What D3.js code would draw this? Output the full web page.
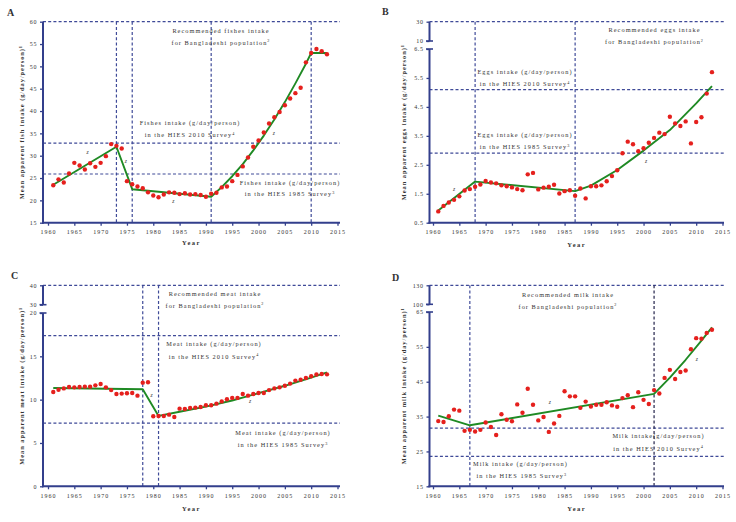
<!DOCTYPE html>
<html><head><meta charset="utf-8">
<script src="https://cdn.jsdelivr.net/npm/d3@7"></script>
<style>
body{margin:0;background:#fff}
svg{display:block}
text{font-family:"Liberation Serif","DejaVu Serif",serif;fill:#333}
</style>
</head><body>
<svg id="c" width="736" height="522"></svg>
<script>
// ---------------- DATA ----------------
const years = [1961,1962,1963,1964,1965,1966,1967,1968,1969,1970,
  1971,1972,1973,1974,1975,1976,1977,1978,1979,1980,
  1981,1982,1983,1984,1985,1986,1987,1988,1989,1990,
  1991,1992,1993,1994,1995,1996,1997,1998,1999,2000,
  2001,2002,2003,2004,2005,2006,2007,2008,2009,2010,
  2011,2012,2013];

const fishValues = [23.4,24.7,24.0,26.0,28.4,27.8,26.9,28.3,27.5,28.4,
  29.9,32.6,32.2,31.6,24.3,23.6,23.1,22.7,21.8,21.1,
  20.7,21.3,21.8,21.7,21.4,21.6,21.3,21.4,21.2,20.8,
  21.5,21.7,22.9,23.1,24.3,25.7,27.6,29.6,32.0,33.4,
  35.2,37.2,38.6,39.8,41.3,42.8,44.0,45.2,50.9,53.0,
  53.9,53.4,52.7];
const eggValues = [0.89,1.08,1.20,1.29,1.41,1.61,1.66,1.74,1.82,1.94,
  1.89,1.86,1.79,1.76,1.72,1.66,1.62,2.17,2.22,1.65,
  1.71,1.74,1.81,1.51,1.59,1.62,1.43,1.68,1.34,1.76,
  1.76,1.79,1.93,2.11,2.31,2.90,3.30,3.21,2.97,3.07,
  3.26,3.43,3.61,3.56,4.16,3.93,3.84,4.00,3.24,3.98,
  4.14,4.96,5.70];
const meatValues = [10.88,11.15,11.3,11.46,11.42,11.46,11.5,11.5,11.65,11.8,
  11.42,11.1,10.65,10.7,10.73,10.77,10.46,11.96,12.0,8.08,
  8.12,8.12,8.27,8.0,8.96,8.92,9.04,9.08,9.15,9.35,
  9.35,9.54,9.8,10.04,10.2,10.2,10.65,10.46,10.65,10.77,
  10.77,11.1,11.3,11.42,11.6,11.85,12.2,12.3,12.5,12.7,
  12.9,12.96,12.92];
const milkValues = [33.7,33.45,35.1,37.0,36.7,30.9,31.2,30.7,31.2,33.3,
  32.0,29.7,35.65,34.1,33.65,38.5,36.1,43.0,38.4,33.9,
  34.9,30.6,33.0,35.2,42.25,40.8,40.8,37.5,39.3,37.9,
  38.4,38.4,39.1,38.2,37.8,40.3,41.1,37.7,42.0,39.8,
  38.6,42.6,41.6,46.1,48.4,45.8,47.8,48.2,54.3,57.5,
  57.35,59.0,59.9];

// joinpoint-style fitted trend lines
const fishFitYears  = [1961,1973,1976,1991,1993,1995,1997,1999,2001,2003,2005,2007,2009,2010,2013];
const fishFitValues = [23.5,32.0,22.5,20.8,22.97,25.4,28.1,31.2,34.5,38.1,42.0,46.2,50.6,53.0,53.0];
const eggFitYears   = [1961,1968,1987,1990,1995,2000,2005,2010,2013];
const eggFitValues  = [0.92,1.92,1.59,1.78,2.32,2.99,3.70,4.62,5.22];
const meatFitYears  = [1961,1978,1981,1985,1990,1995,2000,2005,2010,2013];
const meatFitValues = [11.35,11.2,8.12,8.6,9.2,9.9,10.75,11.6,12.55,13.15];
const milkFitYears  = [1961,1967,2002,2005,2008,2011,2013];
const milkFitValues = [35.3,32.5,41.5,46.2,51.3,56.8,60.6];

// reference levels: recommended, HIES 2010, HIES 1985
const fishRefLevels = [60, 32.8, 25.9];
const eggRefLevels  = [30, 5.1, 2.9];
const meatRefLevels = [40, 17.4, 7.3];
const milkRefLevels = [130, 31.7, 23.6];

// joinpoint years
const fishJoinYears = [1973, 1976, 1991, 2010];
const eggJoinYears  = [1968, 1987];
const meatJoinYears = [1978, 1981];
const milkJoinYears = [1967, 2002];

// tick labels
const xTickLabels = [1960,1965,1970,1975,1980,1985,1990,1995,2000,2005,2010,2015];
const fishYTicks = [15,20,25,30,35,40,45,50,55,60];
const eggYTicksLow = [0.5,1.5,2.5,3.5,4.5,5.5,6.5];
const eggYTicksHigh = [10,30];
const meatYTicksLow = [0,5,10,15,20];
const meatYTicksHigh = [30,40];
const milkYTicksLow = [15,25,35,45,55,65];
const milkYTicksHigh = [100,130];

// ---------------- DRAWING ----------------
const svg = d3.select("#c");
const AXIS = "#333f8c", DASH = "#3f4a98", RED = "#e5201d", GREEN = "#1f8a24";

function drawPanel(p) {
  const x = d3.scaleLinear().domain([1960, 2015]).range(p.xRange);
  const y = d3.scaleLinear().domain(p.yDomain).range(p.yRange);
  const g = svg.append("g");
  const bottom = p.yRange[0], top = p.yRange[p.yRange.length - 1];

  // horizontal reference lines
  g.selectAll(".href").data(p.refLevels).enter().append("line")
    .attr("x1", p.axisX).attr("x2", p.xEnd)
    .attr("y1", d => y(d)).attr("y2", d => y(d))
    .attr("stroke", DASH).attr("stroke-width", 1.2).attr("stroke-dasharray", "3,2.2");

  // vertical joinpoint lines
  g.selectAll(".vref").data(p.joinYears).enter().append("line")
    .attr("x1", d => x(d)).attr("x2", d => x(d))
    .attr("y1", top).attr("y2", bottom)
    .attr("stroke", (d, i) => (p.darkJoin && i === p.darkJoin) ? "#23234a" : DASH)
    .attr("stroke-width", 1.2).attr("stroke-dasharray", "3,2.2");

  // x axis
  const xa = g.append("g").attr("transform", `translate(0,${bottom})`)
    .call(d3.axisBottom(x).tickValues(xTickLabels).tickSize(3).tickPadding(4).tickFormat(d3.format("d")));
  xa.select(".domain").remove();
  xa.selectAll("line").attr("stroke", AXIS).attr("stroke-width", 1.3);
  xa.selectAll("text").attr("font-size", 6).attr("letter-spacing", 1).attr("fill", "#333")
    .style("font-family", '"Liberation Serif",serif');
  g.append("line").attr("x1", p.axisX - 1).attr("x2", p.xEnd).attr("y1", bottom).attr("y2", bottom)
    .attr("stroke", AXIS).attr("stroke-width", 2);

  // y axis
  const allTicks = p.yTicksLow.concat(p.yTicksHigh || []);
  const ya = g.append("g").attr("transform", `translate(${p.axisX},0)`)
    .call(d3.axisLeft(y).tickValues(allTicks).tickSize(3).tickPadding(3).tickFormat(d => String(d)));
  ya.select(".domain").remove();
  ya.selectAll("line").attr("stroke", AXIS).attr("stroke-width", 1.3);
  ya.selectAll("text").attr("font-size", 6).attr("letter-spacing", 0.6).attr("fill", "#333")
    .style("font-family", '"Liberation Serif",serif');

  const lowTop = y(p.yTicksLow[p.yTicksLow.length - 1]);
  g.append("line").attr("x1", p.axisX).attr("x2", p.axisX).attr("y1", bottom + 1).attr("y2", lowTop)
    .attr("stroke", AXIS).attr("stroke-width", 2);
  if (p.yTicksHigh) {
    const hiBot = y(p.yTicksHigh[0]), hiTop = y(p.yTicksHigh[p.yTicksHigh.length - 1]);
    g.append("line").attr("x1", p.axisX).attr("x2", p.axisX).attr("y1", hiBot).attr("y2", hiTop)
      .attr("stroke", AXIS).attr("stroke-width", 2);
    [hiBot, lowTop].forEach(v => g.append("line")
      .attr("x1", p.axisX - 3.5).attr("x2", p.axisX + 3.5).attr("y1", v).attr("y2", v)
      .attr("stroke", AXIS).attr("stroke-width", 1.6));
  }

  // fitted trend
  const segs = [];
  const fit = p.fitYears.map((yr, i) => [yr, p.fitValues[i]]);
  g.append("path").datum(fit)
    .attr("d", d3.line().x(d => x(d[0])).y(d => y(d[1])))
    .attr("fill", "none").attr("stroke", GREEN).attr("stroke-width", 1.9).attr("stroke-linejoin", "round");

  // observed points
  g.selectAll(".pt").data(years.map((yr, i) => [yr, p.values[i]])).enter().append("circle")
    .attr("cx", d => x(d[0])).attr("cy", d => y(d[1])).attr("r", 2.2).attr("fill", RED);

  // "z" significance markers
  p.zMarks.forEach(m => g.append("text").attr("x", x(m[0])).attr("y", y(m[1]))
    .attr("font-size", 5.5).attr("font-style", "italic").attr("text-anchor", "middle").text("z"));

  // annotations
  p.notes.forEach(n => {
    const t = g.append("text").attr("x", n.x).attr("y", n.y).attr("text-anchor", n.anchor || "middle")
      .attr("font-size", 6.3).attr("letter-spacing", 1.05).attr("fill", "#333");
    t.append("tspan").text(n.text);
    if (n.sup) t.append("tspan").attr("dy", -2.5).attr("font-size", 4.2).text(n.sup);
  });

  // axis titles
  g.append("text").attr("x", (p.axisX + p.xEnd) / 2).attr("y", p.yearY)
    .attr("text-anchor", "middle").attr("font-size", 6.5).attr("font-weight", "bold")
    .attr("letter-spacing", 1.5).text("Year");
  const yt = g.append("text")
    .attr("transform", `translate(${p.titleX},${(bottom + top) / 2}) rotate(-90)`)
    .attr("text-anchor", "middle").attr("font-size", 6.4).attr("font-weight", "bold")
    .attr("letter-spacing", 0.95);
  yt.append("tspan").text(p.yTitle);
  yt.append("tspan").attr("dy", -2.5).attr("font-size", 4.2).text("1");

  svg.append("text").attr("x", p.letter[0]).attr("y", p.letter[1])
    .attr("font-size", 10).attr("font-weight", "bold").attr("fill", "#111").text(p.label);
}

drawPanel({
  label: "A", letter: [7, 15.5],
  values: fishValues, fitYears: fishFitYears, fitValues: fishFitValues,
  refLevels: fishRefLevels, joinYears: fishJoinYears,
  yTicksLow: fishYTicks, yTicksHigh: null,
  yDomain: [15, 60], yRange: [222.7, 21.7],
  xRange: [48, 337.5], axisX: 43, xEnd: 340, yearY: 245, titleX: 24,
  yTitle: "Mean apparent fish intake (g/day/person)",
  zMarks: [[1967.5, 30.3], [1974.8, 28.4], [1983.8, 19.5], [2002.9, 34.7]],
  notes: [
    {x: 221, y: 33, text: "Recommended fishes intake"},
    {x: 221, y: 44.6, text: "for Bangladeshi population", sup: "2"},
    {x: 190, y: 125.3, text: "Fishes intake (g/day/person)"},
    {x: 190, y: 137.3, text: "in the HIES 2010 Survey", sup: "4"},
    {x: 290, y: 185, text: "Fishes intake (g/day/person)"},
    {x: 290, y: 196.3, text: "in the HIES 1985 Survey", sup: "3"}
  ]
});

drawPanel({
  label: "B", letter: [382, 14.5],
  values: eggValues, fitYears: eggFitYears, fitValues: eggFitValues,
  refLevels: eggRefLevels, joinYears: eggJoinYears,
  yTicksLow: eggYTicksLow, yTicksHigh: eggYTicksHigh,
  yDomain: [0.5, 6.5, 10, 30], yRange: [222.7, 49, 41, 21.7],
  xRange: [433, 722.5], axisX: 429.5, xEnd: 724, yearY: 247, titleX: 406,
  yTitle: "Mean apparent eggs intake (g/day/person)",
  zMarks: [[1964.0, 1.61], [2000.5, 2.57]],
  notes: [
    {x: 654.5, y: 32.3, text: "Recommended eggs intake"},
    {x: 654.5, y: 44.3, text: "for Bangladeshi population", sup: "2"},
    {x: 525, y: 74, text: "Eggs intake (g/day/person)"},
    {x: 525, y: 86, text: "in the HIES 2010 Survey", sup: "4"},
    {x: 525, y: 137.3, text: "Eggs intake (g/day/person)"},
    {x: 525, y: 149.3, text: "in the HIES 1985 Survey", sup: "3"}
  ]
});

drawPanel({
  label: "C", letter: [11, 279],
  values: meatValues, fitYears: meatFitYears, fitValues: meatFitValues,
  refLevels: meatRefLevels, joinYears: meatJoinYears,
  yTicksLow: meatYTicksLow, yTicksHigh: meatYTicksHigh,
  yDomain: [0, 20, 30, 40], yRange: [486.3, 313, 304.7, 285.3],
  xRange: [48, 337.5], axisX: 43, xEnd: 340, yearY: 511, titleX: 24,
  yTitle: "Mean apparent meat intake (g/day/person)",
  zMarks: [[1979.7, 10.3], [1998.4, 9.6]],
  notes: [
    {x: 215, y: 296.3, text: "Recommended meat intake"},
    {x: 215, y: 307.6, text: "for Bangladeshi population", sup: "2"},
    {x: 214, y: 346, text: "Meat intake (g/day/person)"},
    {x: 214, y: 358.6, text: "in the HIES 2010 Survey", sup: "4"},
    {x: 283, y: 435, text: "Meat intake (g/day/person)"},
    {x: 283, y: 447, text: "in the HIES 1985 Survey", sup: "3"}
  ]
});

drawPanel({
  label: "D", letter: [392, 280.5],
  values: milkValues, fitYears: milkFitYears, fitValues: milkFitValues,
  refLevels: milkRefLevels, joinYears: milkJoinYears, darkJoin: 1,
  yTicksLow: milkYTicksLow, yTicksHigh: milkYTicksHigh,
  yDomain: [15, 65, 100, 130], yRange: [486.3, 312, 304.3, 285.3],
  xRange: [433, 722.5], axisX: 429.5, xEnd: 724, yearY: 511, titleX: 406,
  yTitle: "Mean apparent milk intake (g/day/person)",
  zMarks: [[1982.2, 38.7], [2010.1, 50.9]],
  notes: [
    {x: 568, y: 296.6, text: "Recommended milk intake"},
    {x: 568, y: 308.6, text: "for Bangladeshi population", sup: "2"},
    {x: 658.5, y: 438.3, text: "Milk intake(g/day/person)"},
    {x: 658.5, y: 450.6, text: "in the HIES 2010 Survey", sup: "4"},
    {x: 473, y: 466, text: "Milk intake (g/day/person)", anchor: "start"},
    {x: 476.5, y: 478, text: "in the HIES 1985 Survey", anchor: "start", sup: "3"}
  ]
});
</script>
</body></html>
